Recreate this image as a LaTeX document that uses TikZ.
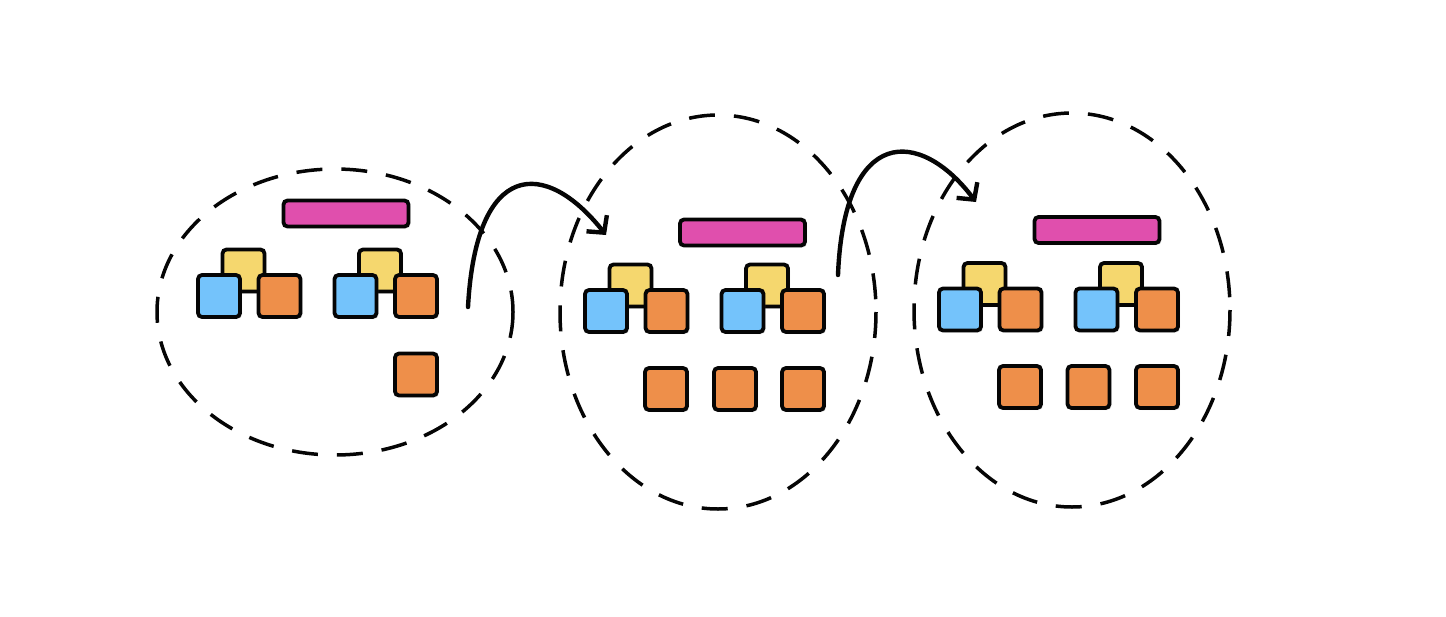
\documentclass[tikz,border=0pt]{standalone}
\usepackage{tikz}
\usepackage{xcolor}
\usetikzlibrary{arrows.meta, positioning, calc, shadows}
\definecolor{tilePink}{HTML}{E04FAD}
\definecolor{tileYellow}{HTML}{F5D76E}
\definecolor{tileBlue}{HTML}{74C3FB}
\definecolor{tileOrange}{HTML}{EE8F4A}
\definecolor{tileDark}{HTML}{050505}

\begin{document}
\begin{tikzpicture}[x=1pt,y=-1pt,
  tile/.style={draw=tileDark,line width=3.8pt,rounded corners=4pt,minimum width=42pt,minimum height=42pt,inner sep=0pt,
    drop shadow={opacity=0.18,shadow xshift=2pt,shadow yshift=-2pt}},
  lead/.style={tile,fill=tileYellow},
  helper/.style={tile,fill=tileBlue},
  worker/.style={tile,fill=tileOrange},
  bar/.style={tile,fill=tilePink,minimum width=125pt,minimum height=26pt},
  zone/.style={draw=tileDark,line width=3.5pt,dash pattern=on 26pt off 19pt},
  hop/.style={draw=tileDark,line width=4.4pt,line cap=round,-{Straight Barb[length=12pt,width=26pt,line width=4.4pt]}}]
\useasboundingbox (0,0) rectangle (1446,616);
\newcommand{\tilepair}[3]{%
  \node[lead] (#1y) at (#2,#3) {};
  \node[helper] (#1b) at (#2-24.5,#3+25.5) {};
  \node[worker] (#1o) at (#2+36,#3+25.5) {};
}
% first group
\draw[zone] (335,312) ellipse [x radius=178, y radius=143];
\node[bar] (pA) at (346,213.5) {};
\tilepair{aL}{243.5}{270.5}
\tilepair{aR}{380}{270.5}
\node[worker] (aW1) at (416,374.5) {};
% second group
\draw[zone] (718,312) ellipse [x radius=158, y radius=197];
\node[bar] (pB) at (742.5,232.5) {};
\tilepair{bL}{630.5}{285.5}
\tilepair{bR}{767}{285.5}
\node[worker] (bW1) at (666,389) {};
\node[worker] (bW2) at (735,389) {};
\node[worker] (bW3) at (803,389) {};
% third group
\draw[zone] (1072,310) ellipse [x radius=158, y radius=197];
\node[bar] (pC) at (1097,230) {};
\tilepair{cL}{984.5}{284}
\tilepair{cR}{1121}{284}
\node[worker] (cW1) at (1020,387) {};
\node[worker] (cW2) at (1088.5,387) {};
\node[worker] (cW3) at (1157,387) {};
% hops between groups
\coordinate (hopA) at (468,307);
\coordinate (hopB) at (606,235);
\coordinate (hopC) at (838,275);
\coordinate (hopD) at (976,202);
\draw[hop] (hopA) .. controls (476,160) and (545,158) .. (hopB);
\draw[hop] (hopC) .. controls (844,125) and (920,128) .. (hopD);
\end{tikzpicture}
\end{document}
